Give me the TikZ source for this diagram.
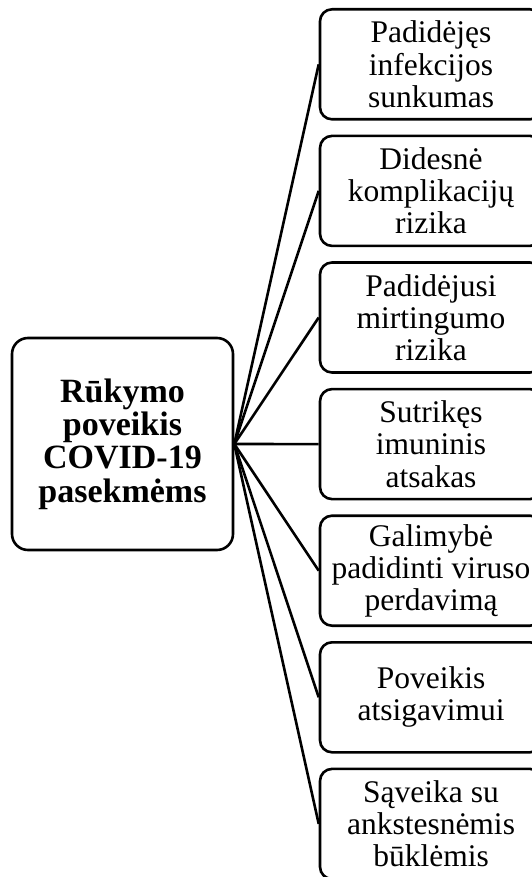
\documentclass[tikz,border=0pt]{standalone}
\usepackage{fontspec}
\setmainfont{Liberation Serif}
\begin{document}
\begin{tikzpicture}[x=1pt,y=-1pt,
  box/.style={draw, line width=2.6pt, rounded corners=12pt, minimum width=222pt, minimum height=110pt, align=center, inner sep=0pt, font=\fontsize{31.5}{32.2}\selectfont},
  mainbox/.style={draw, line width=2.6pt, rounded corners=16pt, minimum width=221pt, minimum height=212pt, align=center, inner sep=0pt, font=\fontsize{34}{33.3}\selectfont\bfseries},
  conn/.style={line width=2.6pt}]
\clip (0,0) rectangle (532,877);
\node[mainbox] (L) at (122.5,444) {Rūkymo\\poveikis\\COVID-19\\pasekmėms};
\node[box] (R1) at (431,64.3) {Padidėjęs\\infekcijos\\sunkumas};
\node[box] (R2) at (431,190.9) {Didesnė\\komplikacijų\\rizika};
\node[box] (R3) at (431,317.5) {Padidėjusi\\mirtingumo\\rizika};
\node[box] (R4) at (431,444.1) {Sutrikęs\\imuninis\\atsakas};
\node[box] (R5) at (431,570.7) {Galimybė\\padidinti viruso\\perdavimą};
\node[box] (R6) at (431,697.3) {Poveikis\\atsigavimui};
\node[box] (R7) at (431,823.9) {Sąveika su\\ankstesnėmis\\būklėmis};
\foreach \i in {1,...,7} \draw[conn] (L.east) -- (R\i.west);
\end{tikzpicture}
\end{document}
